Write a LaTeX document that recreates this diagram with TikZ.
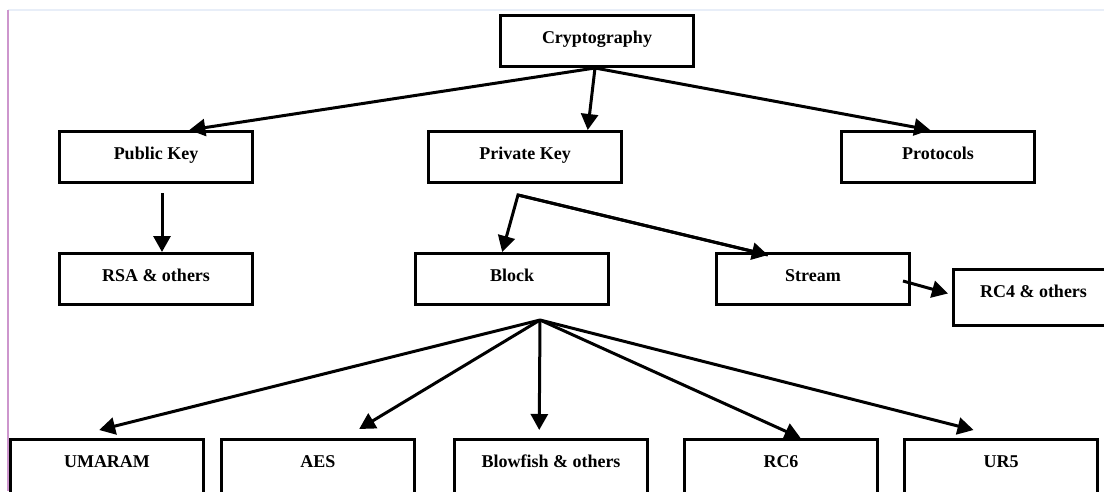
\documentclass[tikz,border=0pt]{standalone}
\usepackage{fontspec}
\setmainfont{Liberation Serif}
\usetikzlibrary{arrows.meta,calc}
\definecolor{edgepink}{RGB}{205,150,205}
\definecolor{edgeblue}{RGB}{232,238,248}
\begin{document}
\begin{tikzpicture}[x=1pt,y=-1pt,
  box/.style={draw, line width=3pt, inner sep=0pt, anchor=north west,
    minimum width=193pt, text height=27.5pt, text depth=23.5pt,
    font=\fontsize{18}{20}\selectfont\bfseries},
  tallbox/.style={box, text depth=28.5pt},
  lowbox/.style={box, text depth=40pt},
  arr/.style={line width=3pt, -{Triangle[length=16pt,width=17pt]}}]
\useasboundingbox (0,0) rectangle (1104,491);
\clip (0,0) rectangle (1104,491);
\fill[white] (0,0) rectangle (1104,491);
% page edge artefacts
\draw[edgeblue, line width=2pt] (8,10) -- (1104,10);
\draw[edgepink, line width=1.5pt] (8,10) -- (8,491);
% nodes
\node[box] (crypto) at (499,14) {Cryptography};
\node[box] (pub) at (58,130) {Public Key};
\node[box] (priv) at (427,130) {Private Key};
\node[box] (prot) at (840,130) {Protocols};
\node[box] (rsa) at (58,252) {RSA \& others};
\node[box] (block) at (414,252) {Block};
\node[box] (stream) at (715,252) {Stream};
\node[tallbox, minimum width=160pt] (rc4) at (952,268) {RC4 \& others};
\node[lowbox] (umaram) at (9,438) {UMARAM};
\node[lowbox] (aes) at (220,438) {AES};
\node[lowbox] (blow) at (453,438) {Blowfish \& others};
\node[lowbox] (rc6) at (683,438) {RC6};
\node[lowbox] (ur5) at (903,438) {UR5};
% branch points
\coordinate (cb) at ($(crypto.south)+(-2,0)$);
\coordinate (pb) at ($(priv.south)+(-7,11)$);
\coordinate (bb) at ($(block.south)+(28,14)$);
\coordinate (sb) at ($(stream.east)+(-8,2)$);
\coordinate (ps) at ($(pub.south)+(6,9)$);
% connectors
\draw[arr] (cb) -- ($(pub.north west)!0.67!(pub.north east)$);
\draw[arr] (cb) -- ($(priv.north west)!0.82!(priv.north east)$);
\draw[arr] (cb) -- ($(prot.north west)!0.46!(prot.north east)$);
\draw[arr] (ps) -- (ps |- rsa.north);
\draw[arr, line join=miter] ($(stream.north west)!0.27!(stream.north east)+(0,3)$) coordinate (st)
  (st) -- (pb) -- ($(block.north west)!0.45!(block.north east)$);
\draw[arr] (pb) -- (st);
\draw[arr] (sb) -- ($(rc4.west)+(-4,-4)$);
\draw[arr] (bb) -- ($(umaram.north west)!0.46!(umaram.north east)+(0,-8)$);
\draw[arr] (bb) -- ($(aes.north west)!0.71!(aes.north east)+(0,-9)$);
\draw[arr] (bb) -- ($(blow.north west)!0.44!(blow.north east)+(0,-8)$);
\draw[arr] (bb) -- ($(rc6.north west)!0.60!(rc6.north east)$);
\draw[arr] (bb) -- ($(ur5.north west)!0.36!(ur5.north east)+(0,-8)$);
\end{tikzpicture}
\end{document}
